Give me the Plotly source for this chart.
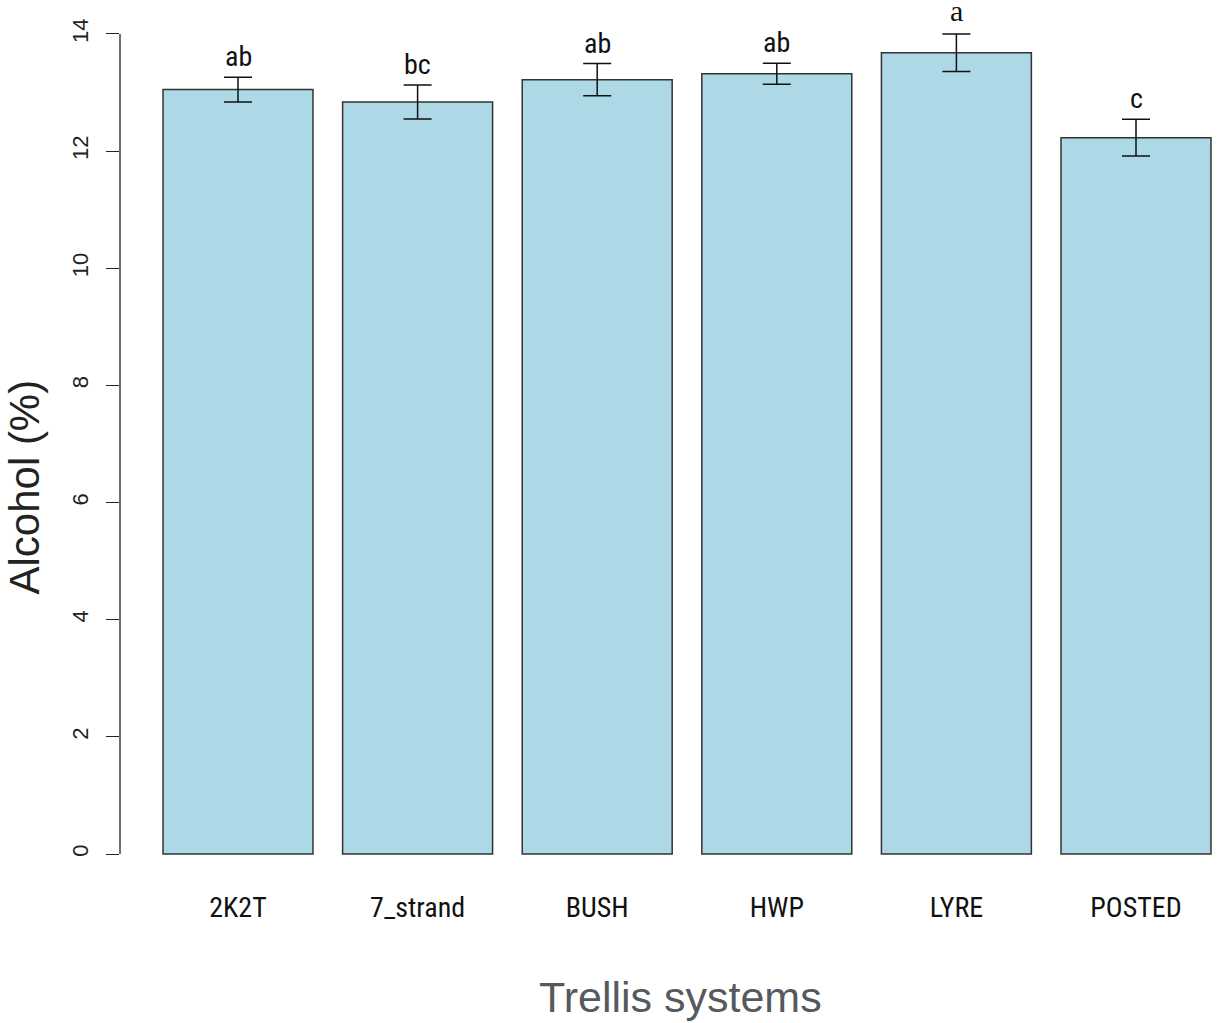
import plotly.graph_objects as go

categories = ["2K2T", "7_strand", "BUSH", "HWP", "LYRE", "POSTED"]
means = [13.05, 12.84, 13.22, 13.32, 13.68, 12.23]
ses = [0.21, 0.29, 0.275, 0.18, 0.32, 0.315]
letters = ["ab", "bc", "ab", "ab", "a", "c"]
yticks = [0, 2, 4, 6, 8, 10, 12, 14]

NARROW = "Roboto Condensed, DejaVu Sans Condensed, Liberation Sans Narrow, Arial Narrow, sans-serif"

fig = go.Figure()
fig.add_trace(go.Bar(
    x=categories, y=means,
    marker=dict(color="#ADD8E6", line=dict(color="#333333", width=1.5)),
    error_y=dict(type="data", array=ses, visible=True, color="#111111",
                 thickness=1.5, width=14),
    showlegend=False, hoverinfo="skip",
))

for c, m, s, l in zip(categories, means, ses, letters):
    serif = (l == "a")
    fig.add_annotation(
        x=c, y=m + s, text=l, showarrow=False, yanchor="bottom",
        yshift=2 if not serif else 5,
        font=dict(family="Liberation Serif, serif" if serif else NARROW,
                  size=30 if serif else 28, color="#111111"),
    )

# y axis line spanning first to last tick (R style)
fig.add_shape(type="line", xref="paper", yref="y", x0=0, x1=0,
              y0=yticks[0], y1=yticks[-1], line=dict(color="#222222", width=1.3))

fig.add_annotation(text="Alcohol (%)", xref="paper", yref="paper",
                   x=-0.087, y=0.4515, showarrow=False, textangle=-90,
                   xanchor="center", yanchor="middle",
                   font=dict(family="Liberation Sans, Arial, sans-serif", size=42, color="#222222"))
fig.add_annotation(text="Trellis systems", xref="paper", yref="paper",
                   x=0.5105, y=-0.1242, showarrow=False,
                   xanchor="center", yanchor="middle",
                   font=dict(family="Liberation Sans, Arial, sans-serif", size=43, color="#555a5e"))

fig.update_layout(
    width=1217, height=1023,
    margin=dict(l=120, r=0, t=1, b=136),
    paper_bgcolor="white", plot_bgcolor="white",
    bargap=0.165,
    xaxis=dict(
        type="category", range=[-0.657, 5.451],
        showline=False, showgrid=False, zeroline=False, ticks="",
        tickfont=dict(family=NARROW, size=28, color="#111111"),
        ticklabelstandoff=1,
    ),
    yaxis=dict(
        range=[-0.5634, 14.563], tickvals=yticks,
        showline=False, showgrid=False, zeroline=False,
        ticks="outside", ticklen=13, tickwidth=1.3, tickcolor="#222222",
        tickangle=-90, ticklabelstandoff=9,
        tickfont=dict(family="Liberation Sans, Arial, sans-serif", size=22, color="#222222"),
    ),
)

fig.write_html("out.html", config={"displayModeBar": False},
               post_script="document.body.style.margin='0';")
